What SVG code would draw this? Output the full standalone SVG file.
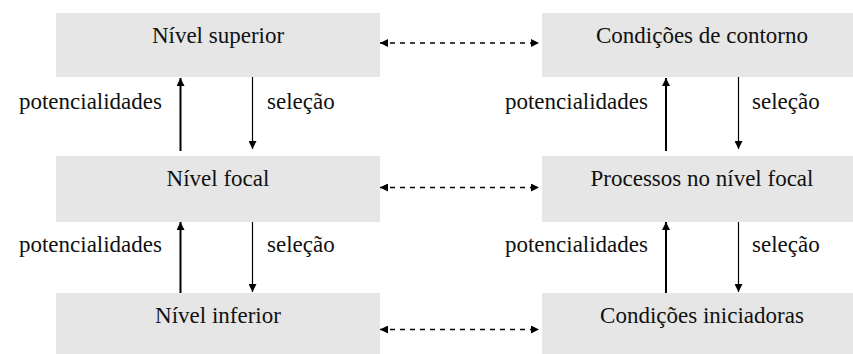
<svg xmlns="http://www.w3.org/2000/svg" width="853" height="354" viewBox="0 0 853 354">
<defs>
<marker id="ah" viewBox="0 0 10 10" refX="10" refY="5" markerWidth="8" markerHeight="8" markerUnits="userSpaceOnUse" orient="auto-start-reverse"><path d="M0,0 L10,5 L0,10 z" fill="#000"/></marker>
<marker id="av" viewBox="0 0 10 10" refX="10" refY="5" markerWidth="9" markerHeight="8" markerUnits="userSpaceOnUse" orient="auto"><path d="M0,0 L10,5 L0,10 z" fill="#000"/></marker>
</defs>
<rect width="853" height="354" fill="#fff"/>
<g id="nivel-superior"><rect fill="#e6e6e6" x="56" y="13" width="324" height="64"/><text style="font-family:'Liberation Serif',serif;font-size:23px" fill="#111" text-anchor="middle" x="218" y="43">Nível superior</text></g>
<g id="nivel-focal"><rect fill="#e6e6e6" x="56" y="156" width="324" height="66"/><text style="font-family:'Liberation Serif',serif;font-size:23px" fill="#111" text-anchor="middle" x="218" y="186">Nível focal</text></g>
<g id="nivel-inferior"><rect fill="#e6e6e6" x="56" y="293" width="324" height="61"/><text style="font-family:'Liberation Serif',serif;font-size:23px" fill="#111" text-anchor="middle" x="218" y="323">Nível inferior</text></g>
<g id="condicoes-contorno"><rect fill="#e6e6e6" x="542" y="13" width="311" height="64"/><text style="font-family:'Liberation Serif',serif;font-size:23px" fill="#111" text-anchor="middle" x="702" y="43">Condições de contorno</text></g>
<g id="processos-focal"><rect fill="#e6e6e6" x="542" y="156" width="311" height="66"/><text style="font-family:'Liberation Serif',serif;font-size:23px" fill="#111" text-anchor="middle" x="702" y="186">Processos no nível focal</text></g>
<g id="condicoes-iniciadoras"><rect fill="#e6e6e6" x="542" y="293" width="311" height="61"/><text style="font-family:'Liberation Serif',serif;font-size:23px" fill="#111" text-anchor="middle" x="702" y="323">Condições iniciadoras</text></g>
<g id="connectors" fill="none">
<g stroke="#000" stroke-width="2">
<line x1="180.5" y1="151" x2="180.5" y2="78" marker-end="url(#av)"/>
<line x1="180.5" y1="293" x2="180.5" y2="222" marker-end="url(#av)"/>
<line x1="666" y1="151" x2="666" y2="78" marker-end="url(#av)"/>
<line x1="666" y1="293" x2="666" y2="222" marker-end="url(#av)"/>
</g>
<g stroke="#000" stroke-width="1.2">
<line x1="252.5" y1="77" x2="252.5" y2="149" marker-end="url(#av)"/>
<line x1="252.5" y1="222" x2="252.5" y2="292" marker-end="url(#av)"/>
<line x1="738.5" y1="77" x2="738.5" y2="149" marker-end="url(#av)"/>
<line x1="738.5" y1="222" x2="738.5" y2="292" marker-end="url(#av)"/>
</g>
<g stroke="#000" stroke-width="1.5" stroke-dasharray="5 5">
<line x1="380" y1="43" x2="539" y2="43" marker-start="url(#ah)" marker-end="url(#ah)"/>
<line x1="380" y1="187.5" x2="539" y2="187.5" marker-start="url(#ah)" marker-end="url(#ah)"/>
<line x1="380" y1="329.5" x2="539" y2="329.5" marker-start="url(#ah)" marker-end="url(#ah)"/>
</g>
<g fill="#111">
<text style="font-family:'Liberation Serif',serif;font-size:23px" x="162" y="109" text-anchor="end">potencialidades</text>
<text style="font-family:'Liberation Serif',serif;font-size:23px" x="267" y="109">seleção</text>
<text style="font-family:'Liberation Serif',serif;font-size:23px" x="648" y="109" text-anchor="end">potencialidades</text>
<text style="font-family:'Liberation Serif',serif;font-size:23px" x="752" y="109">seleção</text>
<text style="font-family:'Liberation Serif',serif;font-size:23px" x="162" y="252" text-anchor="end">potencialidades</text>
<text style="font-family:'Liberation Serif',serif;font-size:23px" x="267" y="252">seleção</text>
<text style="font-family:'Liberation Serif',serif;font-size:23px" x="648" y="252" text-anchor="end">potencialidades</text>
<text style="font-family:'Liberation Serif',serif;font-size:23px" x="752" y="252">seleção</text>
</g>
</g>
</svg>
